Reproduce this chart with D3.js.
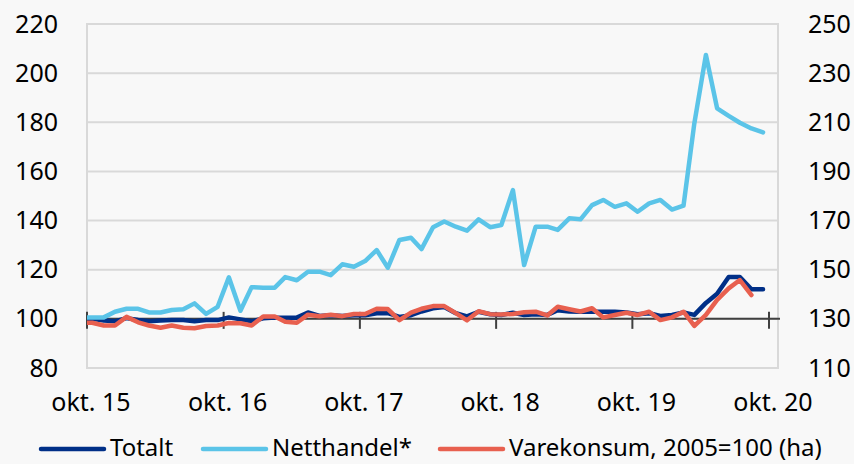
<!DOCTYPE html>
<html>
<head>
<meta charset="utf-8">
<script src="https://cdn.jsdelivr.net/npm/d3@7"></script>
<style>
  body { margin: 0; background: #f8f8f8; }
  svg { display: block; }
  text { font-family: "Noto Sans", sans-serif; fill: #000; }
</style>
</head>
<body>
<svg id="chart"></svg>
<script>
// monthly values, first point is sep 15 (clipped at the axis start), then okt 15 ..
var startMonth = new Date(2015, 8, 15);

var totalt = [100.0,
  100.0, 99.3, 99.0, 100.3, 99.5, 99.0, 99.3, 99.5, 99.5, 99.0,
  99.5, 99.5, 100.6, 99.8, 99.0, 100.2, 100.5, 100.5, 100.5, 102.6,
  101.2, 101.5, 101.2, 101.5, 101.5, 102.3, 102.3, 100.8, 101.5, 103.0,
  104.3, 104.8, 102.3, 101.0, 102.9, 101.9, 101.6, 102.5, 101.6, 101.9,
  101.6, 103.5, 103.0, 102.9, 102.9, 102.9, 102.9, 102.6, 101.9, 102.3,
  101.2, 101.6, 102.6, 101.6, 106.5, 110.2, 117.0, 117.0, 112.0, 112.0];

var netthandel = [100.6,
  100.6, 100.6, 102.9, 104.1, 104.1, 102.6, 102.6, 103.6, 103.9, 106.3,
  102.0, 104.9, 116.9, 103.3, 112.9, 112.7, 112.7, 117.0, 115.7, 119.2,
  119.2, 117.8, 122.2, 121.2, 123.5, 128.0, 120.8, 132.1, 133.0, 128.4,
  137.3, 139.6, 137.5, 135.9, 140.5, 137.3, 138.2, 152.4, 121.9, 137.5,
  137.5, 136.2, 140.9, 140.5, 146.3, 148.4, 145.6, 147.0, 143.6, 147.0,
  148.4, 144.5, 146.1, 179.6, 207.4, 185.7, 182.6, 179.8, 177.5, 175.9];

// right axis (ha)
var varekonsum = [128.5,
  128.4, 127.3, 127.3, 130.8, 128.6, 127.3, 126.4, 127.3, 126.4, 126.2,
  127.1, 127.3, 128.3, 128.2, 127.3, 131.0, 131.0, 128.8, 128.4, 131.7,
  131.1, 131.7, 131.1, 132.0, 132.0, 134.1, 134.0, 129.5, 132.5, 134.1,
  135.2, 135.2, 132.3, 129.4, 133.1, 131.9, 131.8, 132.0, 132.7, 132.9,
  131.4, 134.9, 133.9, 133.0, 134.3, 130.6, 131.6, 132.5, 131.6, 132.9,
  129.5, 130.6, 132.9, 127.1, 131.6, 137.7, 142.4, 145.8, 139.7];

var leftTicks = [80, 100, 120, 140, 160, 180, 200, 220];
var rightTicks = [110, 130, 150, 170, 190, 210, 230, 250];
var xTickLabels = ["okt. 15", "okt. 16", "okt. 17", "okt. 18", "okt. 19", "okt. 20"];
var seriesNames = ["Totalt", "Netthandel*", "Varekonsum, 2005=100 (ha)"];
var seriesColors = ["#002f87", "#5bc4e8", "#e8604f"];

var W = 854, H = 464;
var plot = {left: 87, top: 24, right: 778, bottom: 368};

var svg = d3.select("#chart").attr("width", W).attr("height", H);

var dateOf = function(i) { return d3.timeMonth.offset(startMonth, i); };

var xScale = d3.scaleTime()
    .domain([new Date(2015, 9, 1), new Date(2020, 9, 1)])
    .range([plot.left, 769]);
var yLeft = d3.scaleLinear().domain([80, 220]).range([plot.bottom, plot.top]);
var yRight = d3.scaleLinear().domain([110, 250]).range([plot.bottom, plot.top]);

// gridlines
svg.append("g").selectAll("line")
  .data(leftTicks.slice(1, -1))
  .enter().append("line")
  .attr("x1", plot.left).attr("x2", plot.right)
  .attr("y1", function(d){return yLeft(d);}).attr("y2", function(d){return yLeft(d);})
  .attr("stroke", "#d9d9d9").attr("stroke-width", 2);

// plot area border
svg.append("rect")
  .attr("x", plot.left).attr("y", plot.top)
  .attr("width", plot.right - plot.left).attr("height", plot.bottom - plot.top)
  .attr("fill", "none").attr("stroke", "#d9d9d9").attr("stroke-width", 2);

// left axis labels
var leftAxis = d3.axisLeft(yLeft).tickValues(leftTicks).tickSize(0).tickPadding(29);
var gl = svg.append("g").attr("transform", "translate(" + plot.left + ",0)").call(leftAxis);
gl.select(".domain").remove();
gl.selectAll("text").style("font-size", "25px").attr("font-family", null);

var rightAxis = d3.axisRight(yRight).tickValues(rightTicks).tickSize(0).tickPadding(30);
var gr = svg.append("g").attr("transform", "translate(" + plot.right + ",0)").call(rightAxis);
gr.select(".domain").remove();
gr.selectAll("text").style("font-size", "25px").attr("font-family", null);

// category axis, crossing at 100
var xTicks = xTickLabels.map(function(d, i){ return new Date(2015 + i, 9, 1); });
var y100 = yLeft(100);
svg.append("line")
  .attr("x1", plot.left).attr("x2", plot.right + 2)
  .attr("y1", y100).attr("y2", y100)
  .attr("stroke", "#404040").attr("stroke-width", 2);
svg.append("g").selectAll("line")
  .data(xTicks).enter().append("line")
  .attr("x1", function(d){return xScale(d);}).attr("x2", function(d){return xScale(d);})
  .attr("y1", y100 - 7).attr("y2", y100 + 10)
  .attr("stroke", "#404040").attr("stroke-width", 2);
svg.append("g").selectAll("text")
  .data(xTicks).enter().append("text")
  .attr("x", function(d){return xScale(d) + 4;})
  .attr("y", 411)
  .attr("text-anchor", "middle")
  .style("font-size", "25px")
  .text(function(d, i){return xTickLabels[i];});

// lines
svg.append("clipPath").attr("id", "clip").append("rect")
  .attr("x", plot.left).attr("y", 0)
  .attr("width", plot.right - plot.left).attr("height", H);

var lineLeft = d3.line().x(function(d, i){return xScale(dateOf(i));}).y(function(d){return yLeft(d);});
var lineRight = d3.line().x(function(d, i){return xScale(dateOf(i));}).y(function(d){return yRight(d);});

var gLines = svg.append("g").attr("clip-path", "url(#clip)");
gLines.append("path").datum(totalt).attr("d", lineLeft)
  .attr("fill", "none").attr("stroke", seriesColors[0]).attr("stroke-width", 4.5)
  .attr("stroke-linejoin", "round").attr("stroke-linecap", "round");
gLines.append("path").datum(netthandel).attr("d", lineLeft)
  .attr("fill", "none").attr("stroke", seriesColors[1]).attr("stroke-width", 4.5)
  .attr("stroke-linejoin", "round").attr("stroke-linecap", "round");
gLines.append("path").datum(varekonsum).attr("d", lineRight)
  .attr("fill", "none").attr("stroke", seriesColors[2]).attr("stroke-width", 4.5)
  .attr("stroke-linejoin", "round").attr("stroke-linecap", "round");

// legend
var legendX = [41, 203, 440];
var lg = svg.append("g").selectAll("g")
  .data(seriesNames).enter().append("g")
  .attr("transform", function(d, i){return "translate(" + legendX[i] + ",449)";});
lg.append("line").attr("x1", 0).attr("x2", 63).attr("y1", 0).attr("y2", 0)
  .attr("stroke", function(d, i){return seriesColors[i];}).attr("stroke-width", 4.5)
  .attr("stroke-linecap", "round");
lg.append("text").attr("x", 69).attr("y", 7)
  .style("font-size", "24px")
  .text(function(d){return d;});
</script>
</body>
</html>
